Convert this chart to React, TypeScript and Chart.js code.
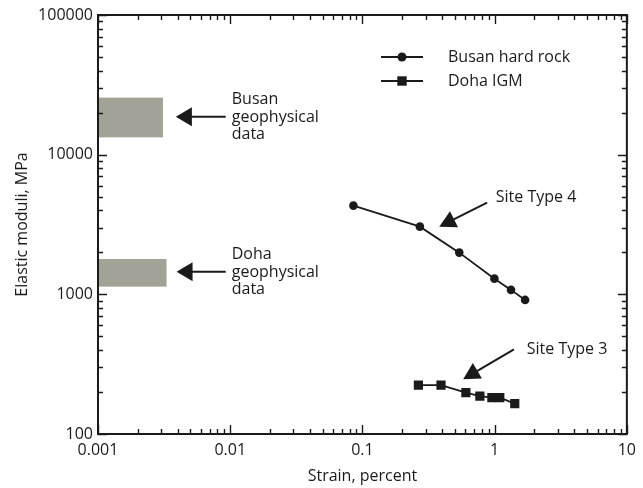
import React, { useEffect, useRef } from 'react';
import { Chart, registerables } from 'chart.js';

Chart.register(...registerables);

// ---- data ----
const busanStrain = [0.0855, 0.272, 0.54, 0.996, 1.33, 1.7];
const busanModulus = [4315, 3053, 1989, 1295, 1076, 912];

const dohaStrain = [0.265, 0.393, 0.606, 0.773, 0.953, 1.094, 1.42];
const dohaModulus = [224, 224, 198, 187, 182, 182, 165];

const xTicks = [0.001, 0.01, 0.1, 1, 10];
const xTickLabels = ['0.001', '0.01', '0.1', '1', '10'];
const yTicks = [100, 1000, 10000, 100000];
const yTickLabels = ['100', '1000', '10000', '100000'];

// geophysical data bands
const bandNames = ['Busan', 'Doha'];
const bandStrainMin = [0.001, 0.001];
const bandStrainMax = [0.0031, 0.0033];
const bandModulusMin = [13300, 1135];
const bandModulusMax = [25600, 1790];
const bandArrowTip = [0.00388, 0.00393];
const bandArrowTail = [0.00925, 0.00925];
const bandArrowModulus = [18700, 1454];

// site type callouts
const siteLabels = ['Site Type 4', 'Site Type 3'];
const siteTailStrain = [0.877, 1.4];
const siteTailModulus = [4530, 404];
const siteTipStrain = [0.381, 0.578];
const siteTipModulus = [3053, 247];
const siteTextStrain = [1.02, 1.75];
const siteTextModulus = [4900, 406];

const FONT = '16px "Open Sans"';
const INK = '#1a1a1a';
const BAND = '#a2a296';

function arrow(ctx: CanvasRenderingContext2D, tx: number, ty: number, hx: number, hy: number, len: number, half: number) {
  const dx = hx - tx;
  const dy = hy - ty;
  const d = Math.hypot(dx, dy);
  const ux = dx / d;
  const uy = dy / d;
  const bx = hx - ux * len;
  const by = hy - uy * len;
  ctx.beginPath();
  ctx.moveTo(tx, ty);
  ctx.lineTo(bx + ux * 2, by + uy * 2);
  ctx.stroke();
  ctx.beginPath();
  ctx.moveTo(hx, hy);
  ctx.lineTo(bx - uy * half, by + ux * half);
  ctx.lineTo(bx + uy * half, by - ux * half);
  ctx.closePath();
  ctx.fill();
}

const decorPlugin = {
  id: 'decor',
  beforeDatasetsDraw(chart: any) {
    const { ctx, scales } = chart;
    const xs = scales.x;
    const ys = scales.y;
    ctx.save();
    ctx.fillStyle = BAND;
    for (let i = 0; i < bandNames.length; i++) {
      const x0 = xs.getPixelForValue(bandStrainMin[i]);
      const x1 = xs.getPixelForValue(bandStrainMax[i]);
      const y0 = ys.getPixelForValue(bandModulusMax[i]);
      const y1 = ys.getPixelForValue(bandModulusMin[i]);
      ctx.fillRect(x0, y0, x1 - x0, y1 - y0);
    }
    ctx.restore();
  },
  afterDraw(chart: any) {
    const { ctx, scales, chartArea: ca } = chart;
    const xs = scales.x;
    const ys = scales.y;
    ctx.save();
    ctx.strokeStyle = INK;
    ctx.fillStyle = INK;
    ctx.font = FONT;

    // band arrows + text
    ctx.lineWidth = 2;
    for (let i = 0; i < bandNames.length; i++) {
      const y = ys.getPixelForValue(bandArrowModulus[i]);
      const xt = xs.getPixelForValue(bandArrowTail[i]);
      const xh = xs.getPixelForValue(bandArrowTip[i]);
      arrow(ctx, xt, y, xh, y, 16, 9.5);
      ctx.textAlign = 'left';
      ctx.textBaseline = 'alphabetic';
      const lines = [bandNames[i], 'geophysical', 'data'];
      lines.forEach((t, k) => {
        ctx.fillText(t, xt + 6, y + 5 + (k - 1) * 17.5);
      });
    }

    // site type callouts
    for (let i = 0; i < siteLabels.length; i++) {
      const tx = xs.getPixelForValue(siteTailStrain[i]);
      const ty = ys.getPixelForValue(siteTailModulus[i]);
      const hx = xs.getPixelForValue(siteTipStrain[i]);
      const hy = ys.getPixelForValue(siteTipModulus[i]);
      arrow(ctx, tx, ty, hx, hy, 16.5, 9);
      ctx.textAlign = 'left';
      ctx.textBaseline = 'middle';
      ctx.fillText(siteLabels[i], xs.getPixelForValue(siteTextStrain[i]), ys.getPixelForValue(siteTextModulus[i]));
    }

    // legend
    const lx0 = ca.left + 283;
    const lx1 = ca.left + 325;
    const lxm = (lx0 + lx1) / 2;
    const ly = [ca.top + 42, ca.top + 66];
    chart.data.datasets.forEach((ds: any, i: number) => {
      ctx.lineWidth = 2;
      ctx.beginPath();
      ctx.moveTo(lx0, ly[i]);
      ctx.lineTo(lx1, ly[i]);
      ctx.stroke();
      if (ds.pointStyle === 'rect') {
        ctx.fillRect(lxm - 4.7, ly[i] - 4.7, 9.4, 9.4);
      } else {
        ctx.beginPath();
        ctx.arc(lxm, ly[i], 4.5, 0, Math.PI * 2);
        ctx.fill();
      }
      ctx.textAlign = 'left';
      ctx.textBaseline = 'middle';
      ctx.fillText(ds.label, ca.left + 350, ly[i]);
    });

    // frame
    ctx.lineWidth = 2;
    ctx.strokeRect(ca.left, ca.top, ca.right - ca.left, ca.bottom - ca.top);

    // inward ticks, all four sides
    ctx.lineWidth = 1.4;
    ctx.beginPath();
    for (let e = -3; e <= 1; e++) {
      for (let k = 1; k <= 9; k++) {
        const v = k * Math.pow(10, e);
        if (v > 10.0001) break;
        const px = Math.round(xs.getPixelForValue(v)) + 0.5;
        const len = k === 1 ? 9 : 5;
        ctx.moveTo(px, ca.bottom);
        ctx.lineTo(px, ca.bottom - len);
        ctx.moveTo(px, ca.top);
        ctx.lineTo(px, ca.top + len);
      }
    }
    for (let e = 2; e <= 5; e++) {
      for (let k = 1; k <= 9; k++) {
        const v = k * Math.pow(10, e);
        if (v > 100001) break;
        const py = Math.round(ys.getPixelForValue(v)) + 0.5;
        const len = k === 1 ? 9 : 5;
        ctx.moveTo(ca.left, py);
        ctx.lineTo(ca.left + len, py);
        ctx.moveTo(ca.right, py);
        ctx.lineTo(ca.right - len, py);
      }
    }
    ctx.stroke();
    ctx.restore();
  },
};

export default function App() {
  const ref = useRef<HTMLCanvasElement | null>(null);

  useEffect(() => {
    if (!ref.current) return;
    Chart.defaults.font.family = '"Open Sans"';
    Chart.defaults.font.size = 16;
    Chart.defaults.color = INK;

    const chart = new Chart(ref.current, {
      type: 'scatter',
      data: {
        datasets: [
          {
            label: 'Busan hard rock',
            data: busanStrain.map((x, i) => ({ x, y: busanModulus[i] })),
            showLine: true,
            borderColor: INK,
            backgroundColor: INK,
            borderWidth: 1.8,
            pointStyle: 'circle',
            pointRadius: 4.3,
            pointBorderWidth: 0,
          },
          {
            label: 'Doha IGM',
            data: dohaStrain.map((x, i) => ({ x, y: dohaModulus[i] })),
            showLine: true,
            borderColor: INK,
            backgroundColor: INK,
            borderWidth: 1.8,
            pointStyle: 'rect',
            pointRadius: 6.5,
            pointBorderWidth: 0,
          },
        ],
      },
      options: {
        responsive: false,
        animation: false,
        devicePixelRatio: 1,
        layout: { padding: { top: 15, right: 15, left: 0, bottom: 0 } },
        plugins: { legend: { display: false }, tooltip: { enabled: false } },
        scales: {
          x: {
            type: 'logarithmic',
            min: 0.001,
            max: 10,
            grid: { display: false, drawTicks: false, tickLength: 0 },
            border: { display: false },
            afterBuildTicks: (s: any) => {
              s.ticks = xTicks.map((v) => ({ value: v }));
            },
            afterFit: (s: any) => {
              s.height = 54;
            },
            ticks: {
              autoSkip: false,
              maxRotation: 0,
              padding: 7,
              color: INK,
              callback: (_v: any, i: number) => xTickLabels[i],
            },
            title: {
              display: true,
              text: 'Strain, percent',
              color: INK,
              padding: { top: 0, bottom: 2 },
            },
          },
          y: {
            type: 'logarithmic',
            min: 100,
            max: 100000,
            grid: { display: false, drawTicks: false, tickLength: 0 },
            border: { display: false },
            afterBuildTicks: (s: any) => {
              s.ticks = yTicks.map((v) => ({ value: v }));
            },
            afterFit: (s: any) => {
              s.width = 98;
            },
            ticks: {
              autoSkip: false,
              padding: 5,
              color: INK,
              callback: (_v: any, i: number) => yTickLabels[i],
            },
            title: {
              display: true,
              text: 'Elastic moduli, MPa',
              color: INK,
              padding: { top: 13, bottom: 0 },
            },
          },
        },
      },
      plugins: [decorPlugin],
    } as any);

    return () => chart.destroy();
  }, []);

  return (
    <div style={{ position: 'fixed', left: 0, top: 0, width: 643, height: 488, background: '#fff' }}>
      <canvas ref={ref} width={643} height={488} style={{ display: 'block', width: 643, height: 488 }} />
    </div>
  );
}
